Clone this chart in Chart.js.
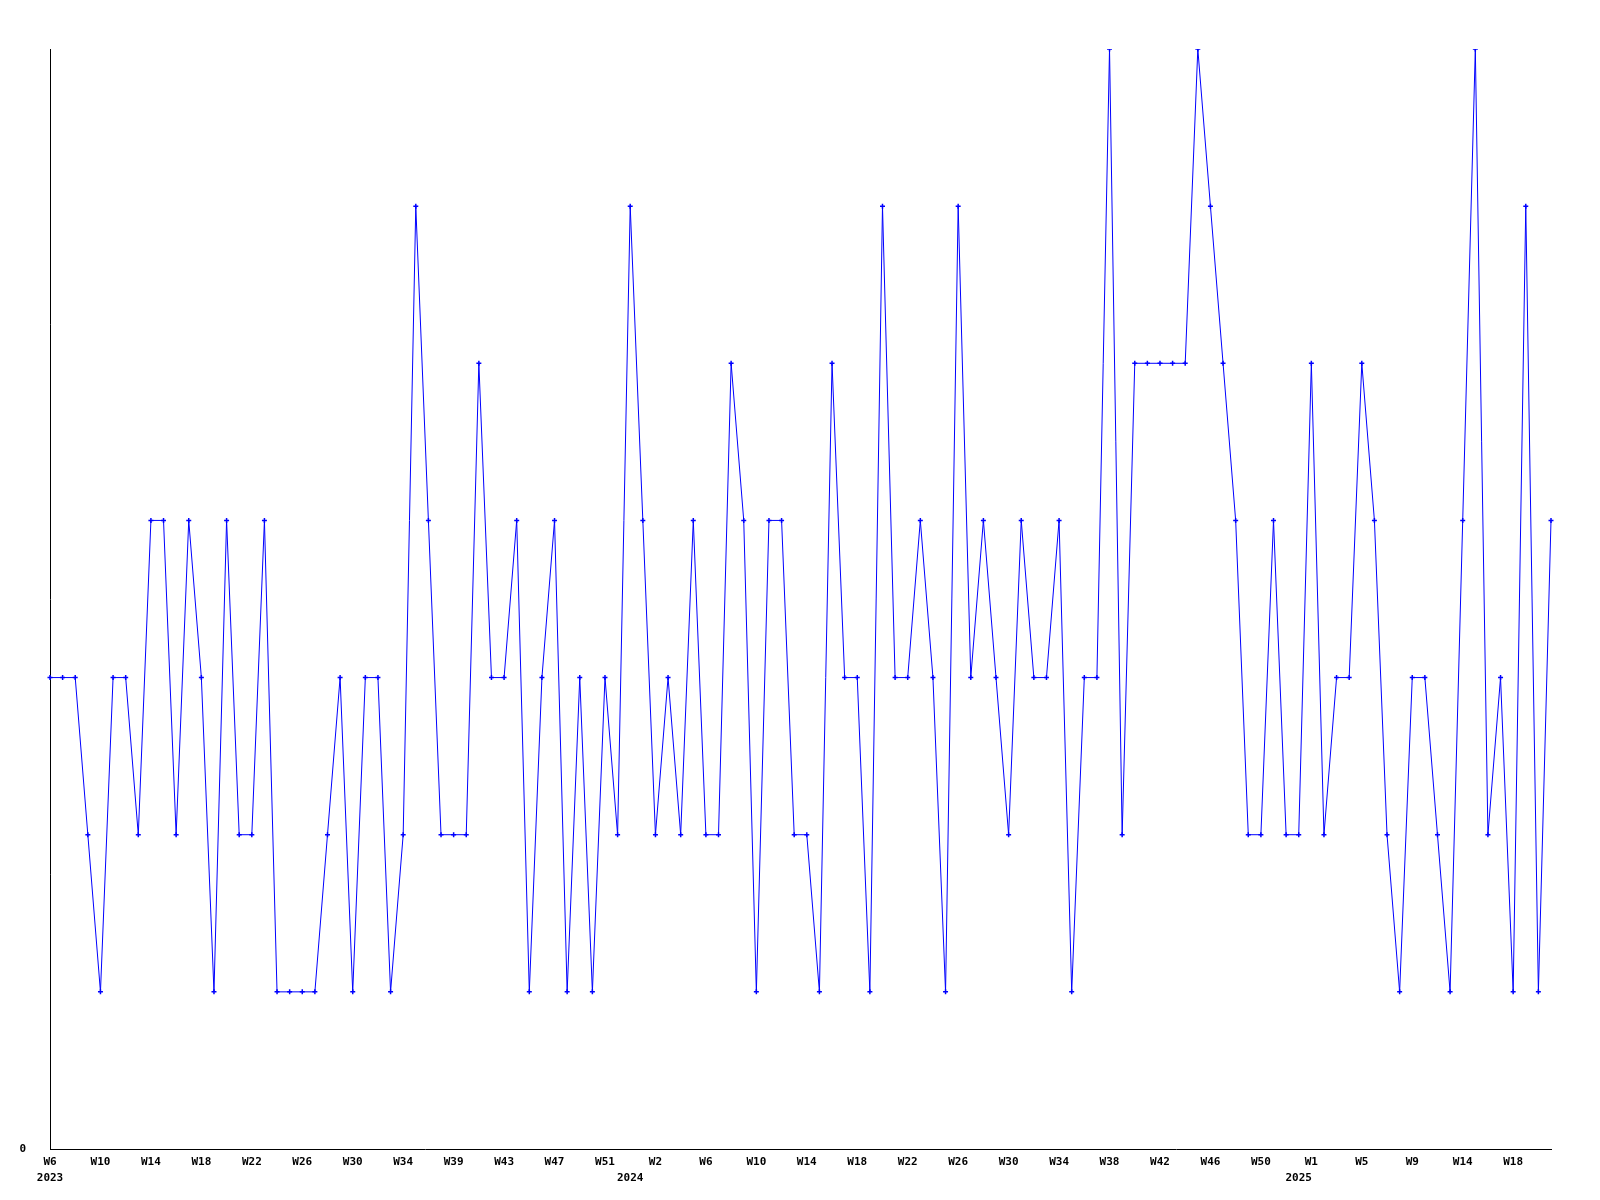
<!DOCTYPE html>
<html>
<head>
<meta charset="utf-8">
<script src="https://cdn.jsdelivr.net/npm/chart.js@4.4.1/dist/chart.umd.min.js"></script>
<style>
  html, body { margin: 0; padding: 0; background: #fff; }
  #wrap { width: 1600px; height: 1200px; }
</style>
</head>
<body>
<div id="wrap"><canvas id="chart" width="1600" height="1200"></canvas></div>
<script>
// week labels shown every 4th point
const weekTicks = ['W6', 'W10', 'W14', 'W18', 'W22', 'W26', 'W30', 'W34', 'W39', 'W43',
    'W47', 'W51', 'W2', 'W6', 'W10', 'W14', 'W18', 'W22', 'W26', 'W30',
    'W34', 'W38', 'W42', 'W46', 'W50', 'W1', 'W5', 'W9', 'W14', 'W18'];
const yearLabels = ['2023', '2024', '2025'];
const yearAt = [0, 46, 99];

const values = [
    3, 3, 3, 2, 1, 3, 3, 2, 4, 4, 2, 4, 3, 1, 4, 2, 2, 4, 1, 1,
    1, 1, 2, 3, 1, 3, 3, 1, 2, 6, 4, 2, 2, 2, 5, 3, 3, 4, 1, 3,
    4, 1, 3, 1, 3, 2, 6, 4, 2, 3, 2, 4, 2, 2, 5, 4, 1, 4, 4, 2,
    2, 1, 5, 3, 3, 1, 6, 3, 3, 4, 3, 1, 6, 3, 4, 3, 2, 4, 3, 3,
    4, 1, 3, 3, 7, 2, 5, 5, 5, 5, 5, 7, 6, 5, 4, 2, 2, 4, 2, 2,
    5, 2, 3, 3, 5, 4, 2, 1, 3, 3, 2, 1, 4, 7, 2, 3, 1, 6, 1, 4
];

const categories = values.map((v, i) => i);

const font = { family: "'DejaVu Sans Mono', monospace", size: 11, weight: 'bold', lineHeight: 1.45 };

new Chart(document.getElementById("chart"), {
    type: 'line',
    data: {
        labels: categories,
        datasets: [{
            data: values,
            borderColor: '#0000ff',
            backgroundColor: '#0000ff',
            borderWidth: 1,
            pointStyle: 'cross',
            pointRadius: 2.5,
            pointBorderWidth: 1.5,
            tension: 0,
            fill: false
        }]
    },
    options: {
        responsive: false,
        animation: false,
        layout: { padding: { top: 49, right: 49, left: 0, bottom: 0 } },
        plugins: {
            legend: { display: false },
            tooltip: { enabled: false }
        },
        scales: {
            x: {
                offset: false,
                grid: { display: false, drawTicks: false },
                border: { display: true, color: '#000', width: 1 },
                afterFit: (axis) => { axis.height = 51; },
                ticks: {
                    autoSkip: false,
                    maxRotation: 0,
                    minRotation: 0,
                    padding: 5,
                    color: '#000',
                    font: font,
                    callback: (v, i) => {
                        const y = yearAt.indexOf(i);
                        const w = i % 4 === 0 ? weekTicks[i / 4] : '';
                        if (y >= 0) return [w, yearLabels[y]];
                        return w;
                    }
                }
            },
            y: {
                min: 0,
                max: 7,
                grid: { display: false, drawTicks: false },
                border: { display: true, color: '#000', width: 1 },
                afterFit: (axis) => { axis.width = 50; },
                afterBuildTicks: (axis) => { axis.ticks = [{ value: 0 }]; },
                ticks: {
                    padding: 24,
                    color: '#000',
                    font: font,
                    callback: (v) => String(v)
                }
            }
        }
    }
});
</script>
</body>
</html>
